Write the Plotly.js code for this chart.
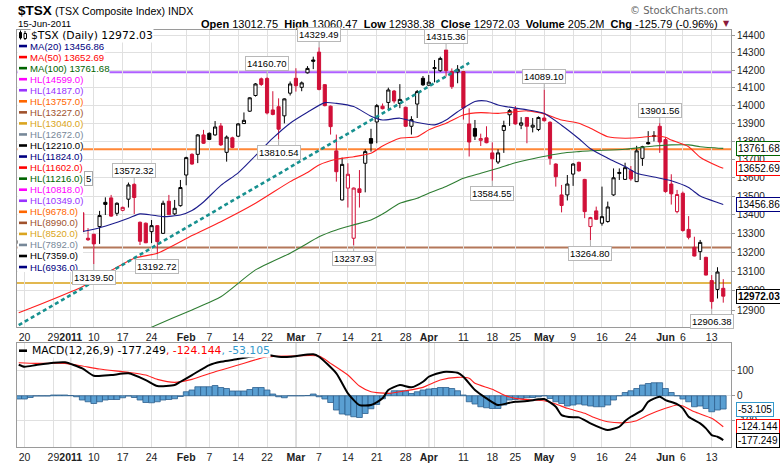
<!DOCTYPE html>
<html>
<head>
<meta charset="utf-8">
<script src="https://cdn.plot.ly/plotly-3.0.1.min.js"></script>
<style>
  html, body { margin: 0; padding: 0; background: #fff; }
  #tsx__chart { width: 780px; height: 465px; }
</style>
</head>
<body>
<div id="tsx__chart"></div>
<script>
// **********************************************************************************************
// DATA  ($TSX daily, 17-Dec-2010 .. 15-Jun-2011)

const dates = [
    '2010-12-17','2010-12-20','2010-12-21','2010-12-22','2010-12-23','2010-12-24','2010-12-29','2010-12-30','2010-12-31',
    '2011-01-04','2011-01-05','2011-01-06','2011-01-07','2011-01-10','2011-01-11','2011-01-12','2011-01-13','2011-01-14',
    '2011-01-17','2011-01-18','2011-01-19','2011-01-20','2011-01-21','2011-01-24','2011-01-25','2011-01-26','2011-01-27',
    '2011-01-28','2011-01-31','2011-02-01','2011-02-02','2011-02-03','2011-02-04','2011-02-07','2011-02-08','2011-02-09',
    '2011-02-10','2011-02-11','2011-02-14','2011-02-15','2011-02-16','2011-02-17','2011-02-18','2011-02-22','2011-02-23',
    '2011-02-24','2011-02-25','2011-02-28','2011-03-01','2011-03-02','2011-03-03','2011-03-04','2011-03-07','2011-03-08',
    '2011-03-09','2011-03-10','2011-03-11','2011-03-14','2011-03-15','2011-03-16','2011-03-17','2011-03-18','2011-03-21',
    '2011-03-22','2011-03-23','2011-03-24','2011-03-25','2011-03-28','2011-03-29','2011-03-30','2011-03-31','2011-04-01',
    '2011-04-04','2011-04-05','2011-04-06','2011-04-07','2011-04-08','2011-04-11','2011-04-12','2011-04-13','2011-04-14',
    '2011-04-15','2011-04-18','2011-04-19','2011-04-20','2011-04-21','2011-04-25','2011-04-26','2011-04-27','2011-04-28',
    '2011-04-29','2011-05-02','2011-05-03','2011-05-04','2011-05-05','2011-05-06','2011-05-09','2011-05-10','2011-05-11',
    '2011-05-12','2011-05-13','2011-05-16','2011-05-17','2011-05-18','2011-05-19','2011-05-20','2011-05-24','2011-05-25',
    '2011-05-26','2011-05-27','2011-05-30','2011-05-31','2011-06-01','2011-06-02','2011-06-03','2011-06-06','2011-06-07',
    '2011-06-08','2011-06-09','2011-06-10','2011-06-13','2011-06-14','2011-06-15'
];

const open = [
    13250, 13262, 13285, 13330, 13350, 13344, 13360, 13392, 13400,
    13452, 13395, 13412, 13276, 13297, 13338, 13468, 13492, 13409,
    13425, 13485, 13565, 13361, 13356, 13311, 13343, 13302, 13474,
    13406, 13450, 13616, 13729, 13729, 13836, 13845, 13836, 13886,
    13740, 13820, 13829, 13899, 13968, 14056, 14150, 14152, 13975,
    13993, 13942, 14069, 14153, 14102, 14184, 14257, 14302, 14117,
    13996, 13748, 13481, 13545, 13276, 13541, 13680, 13816, 13908,
    13996, 14017, 14081, 14011, 13990, 13884, 14008, 14153, 14114,
    14208, 14196, 14314, 14191, 14189, 14191, 13897, 13872, 13806,
    13820, 13737, 13687, 13861, 13948, 13980, 13890, 13933, 13879,
    13866, 13930, 13906, 13676, 13508, 13508, 13621, 13685, 13592,
    13338, 13422, 13356, 13365, 13508, 13624, 13592, 13640, 13580,
    13707, 13794, 13828, 13884, 13810, 13567, 13418, 13517, 13323,
    13228, 13205, 13175, 13053, 13007, 13012.75
];
const high = [
    13275, 13290, 13330, 13362, 13372, 13362, 13400, 13420, 13450,
    13470, 13432, 13415, 13330, 13300, 13422, 13495, 13508, 13468,
    13445, 13575, 13572.32, 13365, 13360, 13373, 13345, 13477, 13508,
    13481, 13589, 13716, 13735, 13841, 13864, 13850, 13913, 13902,
    13833, 13826, 13902, 13961, 14046, 14126, 14157, 14160.70, 14080,
    14040, 14040, 14135, 14210, 14135, 14222, 14276, 14329.49, 14120,
    14000, 13838, 13711, 13680, 13548, 13643, 13757, 13870, 14008,
    14011, 14100, 14087, 14120, 13993, 13940, 14087, 14166, 14172,
    14257, 14276, 14315.36, 14209, 14228, 14195, 13984, 13919, 13843,
    13884, 13795, 13757, 13915, 13980, 13997, 13935, 13935, 13930,
    13939, 14089.10, 13912, 13680, 13562, 13616, 13680, 13689, 13595,
    13390, 13445, 13553, 13472, 13652, 13652, 13683, 13665, 13776,
    13776, 13857, 13857, 13901.56, 13823, 13620, 13535, 13526, 13394,
    13284, 13267, 13178, 13082, 13123, 13060.47
];
const low = [
    13225, 13230, 13280, 13318, 13330, 13330, 13348, 13370, 13395,
    13380, 13362, 13300, 13262, 13139.50, 13246, 13400, 13390, 13395,
    13420, 13440, 13405, 13240, 13250, 13250, 13192.72, 13300, 13400,
    13400, 13445, 13560, 13672, 13681, 13786, 13808, 13832, 13775,
    13689, 13763, 13824, 13897, 13964, 14050, 14110, 13950, 13945,
    13810.54, 13900, 14056, 14078, 14080, 14180, 14205, 14085, 13995,
    13838, 13580, 13478, 13440, 13237.93, 13440, 13522, 13744, 13790,
    13978, 13979, 14012, 13985, 13880, 13838, 13930, 14110, 14110,
    14130, 14190, 14163, 14093, 14125, 13921, 13717, 13808, 13775,
    13790, 13584.55, 13676, 13737, 13886, 13893, 13868, 13790, 13850,
    13857, 13910, 13672, 13553, 13414, 13478, 13557, 13634, 13383,
    13264.80, 13373, 13343, 13359, 13503, 13589, 13589, 13585, 13578,
    13666, 13783, 13800, 13737, 13520, 13456, 13409, 13311, 13270,
    13180, 13161, 13080, 12906.38, 12960, 12938.38
];
const close = [
    13262, 13280, 13325, 13350, 13344, 13352, 13390, 13402, 13443,
    13400, 13420, 13311, 13268, 13246, 13397, 13457, 13394, 13463,
    13441, 13562, 13494, 13260, 13252, 13343, 13258, 13463, 13402,
    13436, 13548, 13711, 13676, 13836, 13790, 13811, 13880, 13781,
    13824, 13767, 13897, 13917, 14043, 14121, 14118, 13958, 13950,
    13868, 14037, 14121, 14111, 14127, 14209, 14250, 14090, 13999,
    13882, 13634, 13674, 13620, 13545, 13521, 13744, 13790, 13999,
    13982, 14087, 14025, 14034, 13884, 13921, 14078, 14116, 14131,
    14213, 14266, 14196, 14106, 14204, 13986, 13797, 13829, 13816,
    13793, 13705, 13737, 13888, 13971, 13897, 13903, 13884, 13890,
    13933, 13915, 13707, 13607, 13451, 13567, 13676, 13639, 13418,
    13386, 13377, 13391, 13443, 13601, 13630, 13656, 13595, 13748,
    13771, 13787, 13831, 13797, 13526, 13514, 13510, 13317, 13281,
    13182, 13254, 13082, 12944, 13097.82, 12972.03
];

// moving averages, read at sample dates
const ma20Dates = ['2011-01-05','2011-01-10','2011-01-13','2011-01-18','2011-01-20','2011-01-24','2011-01-26','2011-01-31',
    '2011-02-02','2011-02-04','2011-02-09','2011-02-14','2011-02-17','2011-02-23','2011-02-28','2011-03-03','2011-03-08',
    '2011-03-10','2011-03-15','2011-03-18','2011-03-22','2011-03-25','2011-03-30','2011-04-04','2011-04-06','2011-04-08',
    '2011-04-13','2011-04-15','2011-04-19','2011-04-25','2011-04-27','2011-05-02','2011-05-05','2011-05-10','2011-05-12',
    '2011-05-17','2011-05-20','2011-05-25','2011-05-30','2011-06-02','2011-06-07','2011-06-09','2011-06-14','2011-06-15'];
const ma20Vals = [13306, 13324, 13351, 13383, 13406, 13400, 13391, 13400,
    13424, 13470, 13560, 13628, 13722, 13818, 13901, 13962, 14016,
    14012, 13994, 13940, 13919, 13929, 13905, 13892, 13919, 13965,
    14022, 14025, 14003, 13985, 13976, 13955, 13890, 13815, 13760,
    13708, 13662, 13626, 13605, 13585, 13548, 13502, 13467, 13456.86];

const ma50Dates = ['2010-12-17','2010-12-21','2011-01-06','2011-01-19','2011-01-25','2011-02-02','2011-02-09','2011-02-17',
    '2011-02-28','2011-03-03','2011-03-07','2011-03-10','2011-03-15','2011-03-18','2011-03-22','2011-03-25','2011-03-30',
    '2011-04-01','2011-04-06','2011-04-11','2011-04-14','2011-04-19','2011-04-25','2011-04-27','2011-05-02','2011-05-05',
    '2011-05-10','2011-05-12','2011-05-17','2011-05-20','2011-05-26','2011-05-30','2011-06-01','2011-06-02','2011-06-07',
    '2011-06-09','2011-06-14','2011-06-15'];
const ma50Vals = [12886, 12909, 13021, 13170, 13196, 13290, 13364, 13463,
    13580, 13630, 13671, 13702, 13716, 13735, 13775, 13818, 13826,
    13864, 13901, 13947, 13960, 13956, 13965, 13970, 13953, 13919,
    13901, 13873, 13826, 13818, 13823, 13830, 13823, 13808, 13771,
    13713, 13665, 13652.69];

const ma100Dates = ['2011-01-20','2011-01-24','2011-02-02','2011-02-09','2011-02-17','2011-02-28','2011-03-02','2011-03-07',
    '2011-03-10','2011-03-15','2011-03-18','2011-03-22','2011-03-25','2011-03-30','2011-04-01','2011-04-06','2011-04-11',
    '2011-04-14','2011-04-19','2011-04-25','2011-04-27','2011-05-05','2011-05-10','2011-05-12','2011-05-20','2011-05-30',
    '2011-06-02','2011-06-07','2011-06-09','2011-06-15'];
const ma100Vals = [12784, 12812, 12901, 12969, 13109, 13197, 13231, 13284,
    13320, 13347, 13373, 13405, 13463, 13490, 13517, 13553, 13598,
    13626, 13653, 13683, 13698, 13735, 13744, 13749, 13757, 13775,
    13781, 13781, 13771, 13761.68];

// horizontal levels
const hlLevels = [14599, 14187, 13757, 13227, 13040, 12672, 12210, 11824, 11602, 11216,
    10818, 10349, 9678, 8990, 8520, 7892, 7359, 6936];
const hlColors = ['#ff00ff', '#9933ff', '#ff6600', '#a0522d', '#daa520', '#778899', '#000000', '#000080', '#ff0000', '#006400'];

// MACD(12,26,9)
const macdDates = ['2010-12-17','2010-12-20','2010-12-22','2010-12-29','2010-12-31','2011-01-06','2011-01-10','2011-01-13',
    '2011-01-18','2011-01-21','2011-01-25','2011-01-28','2011-01-31','2011-02-02','2011-02-07','2011-02-09','2011-02-11',
    '2011-02-16','2011-02-22','2011-02-24','2011-02-28','2011-03-04','2011-03-07','2011-03-10','2011-03-14','2011-03-16',
    '2011-03-18','2011-03-22','2011-03-23','2011-03-25','2011-03-29','2011-03-31','2011-04-01','2011-04-05','2011-04-06',
    '2011-04-08','2011-04-11','2011-04-13','2011-04-15','2011-04-19','2011-04-21','2011-04-25','2011-04-27','2011-04-29',
    '2011-05-02','2011-05-04','2011-05-05','2011-05-09','2011-05-10','2011-05-12','2011-05-16','2011-05-17','2011-05-19',
    '2011-05-20','2011-05-24','2011-05-26','2011-05-27','2011-05-31','2011-06-01','2011-06-03','2011-06-06','2011-06-07',
    '2011-06-09','2011-06-10','2011-06-13','2011-06-14','2011-06-15'];
const macdVals = [124, 116, 122.8, 132, 133.6, 109.6, 80, 82.8,
    89.6, 62.8, 38.8, 42.8, 56, 82.8, 122.8, 136, 142.8,
    156, 162.8, 156, 156, 165.6, 156, 89.6, 9.6, -37.2,
    -37.2, -10.4, 22.8, 42.8, 33.6, 56, 76, 92, 96,
    92, 76, 22.8, -10.4, -37.2, -28, -24, -21.2, -14.4,
    -13.2, -44, -77.2, -86.4, -86.4, -110.4, -130.4, -137.2, -124,
    -101.2, -84, -57.2, -24, -4, -17.2, -33.2, -50.4, -84,
    -110.4, -130.4, -157.2, -164, -177.249];

const signalDates = ['2010-12-17','2010-12-22','2010-12-31','2011-01-06','2011-01-11','2011-01-18','2011-01-21','2011-01-25',
    '2011-01-28','2011-02-02','2011-02-08','2011-02-14','2011-02-22','2011-02-28','2011-03-07','2011-03-09','2011-03-14',
    '2011-03-16','2011-03-18','2011-03-23','2011-03-28','2011-03-31','2011-04-05','2011-04-08','2011-04-12','2011-04-13',
    '2011-04-18','2011-04-20','2011-04-25','2011-04-28','2011-05-02','2011-05-04','2011-05-06','2011-05-11','2011-05-13',
    '2011-05-17','2011-05-20','2011-05-25','2011-05-27','2011-06-01','2011-06-03','2011-06-06','2011-06-08','2011-06-13',
    '2011-06-15'];
const signalVals = [132, 129.6, 129.6, 118.8, 106.8, 93.6, 82.8, 65.6,
    53.6, 65.6, 96, 122.8, 156, 158.8, 158.8, 129.6, 82.8,
    38.8, 16, 9.6, 20, 33.6, 62.8, 73.6, 69.6, 49.6,
    25.6, 2.8, -10.4, -17.2, -20, -33.2, -50.4, -70.4, -90.4,
    -104, -108, -100, -77.2, -50.4, -37.2, -41.2, -64, -90.4,
    -124.144];

// histogram, one bar per day (same order as dates)
const hist = [
    -13, -13, -7, -1, -1, -1, 3, 3, 3,
    1, -4, -17, -24, -31, -24, -17, -15, -15,
    -8, -1, -7, -17, -27, -28, -24, -17, -15,
    -12, -3, 16, 23, 36, 36, 36, 41, 33,
    29, 19, 19, 19, 25, 33, 33, 23, 7,
    -4, -8, 0, 0, 0, 1, 7, -4, -13,
    -27, -57, -73, -77, -84, -87, -71, -52, -35,
    -12, 10, 20, 20, 20, 9, 16, 23, 27,
    29, 33, 33, 29, 20, 3, -24, -33, -44,
    -48, -51, -51, -37, -17, -15, -11, -8, -7,
    -4, 0, -11, -24, -31, -41, -37, -33, -37,
    -41, -44, -44, -37, -17, 0, 13, 20, 29,
    43, 49, 52, 52, 29, 13, 0, -13, -24,
    -44, -41, -51, -64, -57, -53.105
];

// axis ticks
const tickDates = ['2010-12-20','2010-12-29','2011-01-04','2011-01-10','2011-01-17','2011-01-24','2011-02-01','2011-02-07',
    '2011-02-14','2011-02-22','2011-03-01','2011-03-07','2011-03-14','2011-03-21','2011-03-28','2011-04-01','2011-04-11',
    '2011-04-18','2011-04-25','2011-05-02','2011-05-09','2011-05-16','2011-05-24','2011-06-01','2011-06-06','2011-06-13'];
const tickText = ['20','29','<b>2011</b>','10','17','24','<b>Feb</b>','7',
    '14','22','<b>Mar</b>','7','14','21','28','<b>Apr</b>','11',
    '18','25','<b>May</b>','9','16','24','<b>Jun</b>','6','13'];
const monthDates = ['2011-01-04','2011-02-01','2011-03-01','2011-04-01','2011-05-02','2011-06-01'];
const extraGridDates = ['2011-04-04'];
const priceTicks = [12900, 13000, 13100, 13200, 13300, 13400, 13500, 13600, 13700, 13800, 13900, 14000, 14100, 14200, 14300, 14400];
const macdTicks = [-100, 0, 100];

// labelled highs / lows
const peakDates = ['2011-01-19','2011-02-22','2011-03-07','2011-04-06','2011-05-02','2011-05-31'];
const troughDates = ['2011-01-10','2011-01-25','2011-02-24','2011-03-15','2011-04-18','2011-05-12','2011-06-13'];

// trend line anchors
const trendStart = ['2010-12-17', 12822];
const trendEnd = ['2011-04-12', 14240];

// **********************************************************************************************
// HELPERS  (pixel -> paper, plot area is x 17..731, y 30..447)

const PX = x => (x - 17) / 714;
const PY = y => (447 - y) / 417;
const last = a => a[a.length - 1];

const RED = '#d01038';

// **********************************************************************************************
// TRACES

const upIdx = [], dnIdx = [];
close.forEach((c, i) => {
    const prev = i === 0 ? open[0] : close[i - 1];
    (c >= prev ? upIdx : dnIdx).push(i);
});
const pick = (arr, idx) => idx.map(i => arr[i]);

const candle = (idx, color) => ({
    type: 'candlestick',
    x: pick(dates, idx), open: pick(open, idx), high: pick(high, idx), low: pick(low, idx), close: pick(close, idx),
    increasing: { line: { color: color, width: 1 }, fillcolor: '#ffffff' },
    decreasing: { line: { color: color, width: 1 }, fillcolor: color },
    whiskerwidth: 0,
    hoverinfo: 'none',
    xaxis: 'x', yaxis: 'y'
});

const line = (x, y, color, width, xa, ya) => ({
    type: 'scatter', mode: 'lines', x: x, y: y,
    line: { color: color, width: width, shape: 'spline', smoothing: 0.6 },
    hoverinfo: 'none', xaxis: xa, yaxis: ya
});

const data = [
    candle(upIdx, '#000000'),
    candle(dnIdx, RED),
    line(ma100Dates, ma100Vals, '#2e7d32', 1.1, 'x', 'y'),
    line(ma50Dates, ma50Vals, '#ff2020', 1.1, 'x', 'y'),
    line(ma20Dates, ma20Vals, '#1c1c8c', 1.1, 'x', 'y'),
    {
        type: 'bar', x: dates, y: hist, width: 1,
        marker: { color: '#5a9fd2', line: { color: '#2d5f8e', width: 0.8 } },
        hoverinfo: 'none', xaxis: 'x2', yaxis: 'y2'
    },
    line(signalDates, signalVals, '#ff2020', 1.1, 'x2', 'y2'),
    line(macdDates, macdVals, '#000000', 2, 'x2', 'y2')
];

// **********************************************************************************************
// SHAPES

const shapes = [];

const vline = (d, color, xa, ya) => shapes.push({
    type: 'line', xref: xa, yref: ya, x0: d, x1: d, y0: -1e6, y1: 1e6,
    line: { color: color, width: 1 }, layer: 'below'
});
monthDates.forEach(d => { vline(d, '#ababab', 'x', 'y2'); });
extraGridDates.forEach(d => { vline(d, '#e0e0e0', 'x', 'y2'); });

hlLevels.forEach((v, i) => {
    shapes.push({ type: 'line', xref: 'x', yref: 'y', x0: -3, x1: dates.length + 3, y0: v, y1: v,
        line: { color: hlColors[i % hlColors.length], width: 2 }, opacity: 0.78, layer: 'below' });
});

shapes.push({ type: 'line', xref: 'x', yref: 'y',
    x0: trendStart[0], y0: trendStart[1], x1: trendEnd[0], y1: trendEnd[1],
    line: { color: '#17908f', width: 2.6, dash: '4px,3px' }, layer: 'above' });

// legend backdrop + markers
const rowY = k => 35 + 11.05 * k;
shapes.push({ type: 'rect', xref: 'paper', yref: 'paper', x0: PX(17.5), x1: PX(83), y0: PY(272), y1: PY(30.5),
    fillcolor: '#ffffff', line: { width: 0 }, layer: 'above' });

const legendRows = [
    { text: 'MA(20) ' + last(ma20Vals).toFixed(2), color: '#000080' },
    { text: 'MA(50) ' + last(ma50Vals).toFixed(2), color: '#ff0000' },
    { text: 'MA(100) ' + last(ma100Vals).toFixed(2), color: '#006400' }
].concat(hlLevels.map((v, i) => ({ text: 'HL(' + v.toFixed(1) + ')', color: hlColors[i % hlColors.length] })));

legendRows.forEach((r, i) => {
    const y = rowY(i + 1);
    shapes.push({ type: 'line', xref: 'paper', yref: 'paper', x0: PX(19), x1: PX(27), y0: PY(y), y1: PY(y),
        line: { color: r.color, width: 2.6 }, layer: 'above' });
});

// tiny candle icon for the price row
shapes.push({ type: 'line', xref: 'paper', yref: 'paper', x0: PX(20.5), x1: PX(20.5), y0: PY(39.5), y1: PY(30.5),
    line: { color: '#000', width: 1 }, layer: 'above' });
shapes.push({ type: 'rect', xref: 'paper', yref: 'paper', x0: PX(19.5), x1: PX(21.5), y0: PY(38), y1: PY(32.5),
    fillcolor: '#000', line: { color: '#000', width: 1 }, layer: 'above' });
shapes.push({ type: 'line', xref: 'paper', yref: 'paper', x0: PX(25), x1: PX(25), y0: PY(40), y1: PY(31),
    line: { color: '#000', width: 1 }, layer: 'above' });
shapes.push({ type: 'rect', xref: 'paper', yref: 'paper', x0: PX(24), x1: PX(26.5), y0: PY(38.5), y1: PY(33.5),
    fillcolor: '#fff', line: { color: '#000', width: 1 }, layer: 'above' });

// MACD legend marker
shapes.push({ type: 'line', xref: 'paper', yref: 'paper', x0: PX(19), x1: PX(27), y0: PY(350.7), y1: PY(350.7),
    line: { color: '#000', width: 2.6 }, layer: 'above' });

// **********************************************************************************************
// ANNOTATIONS

const annotations = [];
const note = (o) => annotations.push(Object.assign({ showarrow: false, xref: 'paper', yref: 'paper' }, o));

// header
note({ x: PX(15.5), y: PY(10.5), xanchor: 'left', yanchor: 'middle', text: '<b>$TSX</b>',
    font: { family: 'Liberation Sans, Arial', size: 13.5, color: '#000' } });
note({ x: PX(53), y: PY(11), xanchor: 'left', yanchor: 'middle', text: '(TSX Composite Index)',
    font: { family: 'Liberation Sans, Arial', size: 10.6, color: '#000' } });
note({ x: PX(166), y: PY(11), xanchor: 'left', yanchor: 'middle', text: 'INDX',
    font: { family: 'Liberation Sans, Arial', size: 10.6, color: '#000' } });
note({ x: PX(15.5), y: PY(23.5), xanchor: 'left', yanchor: 'middle', text: '15-Jun-2011',
    font: { family: 'Liberation Sans, Arial', size: 9.6, color: '#000' } });
note({ x: PX(730), y: PY(10), xanchor: 'right', yanchor: 'middle', text: '\u00a9 StockCharts.com',
    font: { family: 'DejaVu Sans', size: 10, color: '#666' } });

const lastO = last(open), lastH = last(high), lastL = last(low), lastC = last(close);
const chg = lastC - close[close.length - 2];
note({ x: PX(720), y: PY(23.5), xanchor: 'right', yanchor: 'middle',
    text: '<b>Open</b> ' + lastO.toFixed(2) + '  <b>High</b> ' + lastH.toFixed(2) + '  <b>Low</b> ' + lastL.toFixed(2) +
          '  <b>Close</b> ' + lastC.toFixed(2) + '  <b>Volume</b> 205.2M  <b>Chg</b> ' + chg.toFixed(2) +
          ' (' + (chg / close[close.length - 2] * 100).toFixed(2) + '%)',
    font: { family: 'Liberation Sans, Arial', size: 11, color: '#000' } });
note({ x: PX(726), y: PY(23.5), xanchor: 'center', yanchor: 'middle', text: '\u25bc',
    font: { family: 'DejaVu Sans', size: 8, color: '#8b1a3a' } });

// legend rows
note({ x: PX(29.5), y: PY(rowY(0)), xanchor: 'left', yanchor: 'middle', bgcolor: '#fff', borderpad: 0,
    text: '$TSX (Daily) ' + lastC.toFixed(2), font: { family: 'DejaVu Sans', size: 10.8, color: '#000' } });
legendRows.forEach((r, i) => {
    note({ x: PX(29), y: PY(rowY(i + 1)), xanchor: 'left', yanchor: 'middle', borderpad: 0,
        bgcolor: i < 3 ? '#fff' : 'rgba(0,0,0,0)',
        text: r.text, font: { family: 'Liberation Sans, Arial', size: 9.6, color: r.color } });
});
note({ x: PX(84), y: PY(rowY(13)), xanchor: 'left', yanchor: 'middle', text: '5', bgcolor: '#fff',
    bordercolor: '#aaa', borderwidth: 1, borderpad: 1, font: { family: 'Liberation Sans, Arial', size: 9.5, color: '#000' } });

// MACD legend
note({ x: PX(30.5), y: PY(350.7), xanchor: 'left', yanchor: 'middle', bgcolor: '#fff', borderpad: 0,
    text: 'MACD(12,26,9) ' + last(macdVals).toFixed(3) +
          '<span style="color:#ff0000">, ' + last(signalVals).toFixed(3) + '</span>' +
          '<span style="color:#3399cc">, ' + last(hist).toFixed(3) + '</span>',
    font: { family: 'DejaVu Sans', size: 10.8, color: '#000' } });

// high / low call-outs
const callout = (d, v, dir) => annotations.push({
    xref: 'x', yref: 'y', x: d, y: Math.log10(v), text: v.toFixed(2),
    showarrow: true, arrowhead: 0, arrowwidth: 1, arrowcolor: '#b0b0b0', ax: 0, ay: dir * 13, standoff: 0,
    bgcolor: '#fff', bordercolor: '#b8b8b8', borderwidth: 1, borderpad: 1,
    font: { family: 'Liberation Sans, Arial', size: 9.5, color: '#000' }
});
peakDates.forEach(d => callout(d, high[dates.indexOf(d)], -1));
troughDates.forEach(d => callout(d, low[dates.indexOf(d)], 1));

// right-side value tags
const tag = (ya, v, digits, color, bold) => annotations.push({
    xref: 'paper', yref: ya, x: PX(736), y: ya === 'y' ? Math.log10(v) : v, xanchor: 'left', yanchor: 'middle',
    text: bold ? '<b>' + v.toFixed(digits) + '</b>' : v.toFixed(digits), showarrow: false,
    bgcolor: '#fff', bordercolor: color, borderwidth: 1, borderpad: 1,
    font: { family: 'Liberation Sans, Arial', size: 10, color: '#000' }
});
tag('y', last(ma100Vals), 2, '#006400');
tag('y', last(ma50Vals), 2, '#ff0000');
tag('y', last(ma20Vals), 2, '#000080');
tag('y', lastC, 2, '#000000', true);
tag('y2', last(hist), 3, '#3399cc');
tag('y2', last(signalVals), 3, '#ff0000');
tag('y2', last(macdVals), 3, '#000000');

// **********************************************************************************************
// LAYOUT

const axisX = {
    type: 'category', categoryorder: 'array', categoryarray: dates,
    range: [-0.3, 123.34],
    tickmode: 'array', tickvals: tickDates, ticktext: tickText, tickangle: 0,
    tickfont: { family: 'Liberation Sans, Arial', size: 10.5, color: '#222' },
    showgrid: true, gridcolor: '#e0e0e0', gridwidth: 1,
    showline: true, linecolor: '#9a9a9a', linewidth: 1, mirror: true,
    ticks: '', zeroline: false, fixedrange: true,
    rangeslider: { visible: false }
};

const layout = {
    width: 780, height: 465,
    margin: { t: 30, r: 49, b: 18, l: 17, pad: 0 },
    paper_bgcolor: '#ffffff', plot_bgcolor: '#ffffff',
    showlegend: false, hovermode: false, dragmode: false,
    boxgap: 0.22,
    font: { family: 'Liberation Sans, Arial, sans-serif', size: 10.5, color: '#222' },
    xaxis: Object.assign({}, axisX, { anchor: 'y' }),
    xaxis2: Object.assign({}, axisX, { anchor: 'y2', matches: 'x' }),
    yaxis: {
        type: 'log', domain: [120 / 417, 1], side: 'right', anchor: 'x',
        range: [Math.log10(12813), Math.log10(14429)],
        tickmode: 'array', tickvals: priceTicks, ticktext: priceTicks.map(String),
        tickfont: { family: 'Liberation Sans, Arial', size: 10, color: '#222' },
        showgrid: true, gridcolor: '#e0e0e0',
        showline: true, linecolor: '#9a9a9a', mirror: true,
        ticks: 'outside', ticklen: 3, tickcolor: '#9a9a9a',
        zeroline: false, fixedrange: true
    },
    yaxis2: {
        domain: [0, 104 / 417], side: 'right', anchor: 'x2',
        range: [-205, 211],
        tickmode: 'array', tickvals: macdTicks, ticktext: macdTicks.map(String),
        tickfont: { family: 'Liberation Sans, Arial', size: 10, color: '#222' },
        showgrid: true, gridcolor: '#e0e0e0',
        showline: true, linecolor: '#9a9a9a', mirror: true,
        ticks: 'outside', ticklen: 3, tickcolor: '#9a9a9a',
        zeroline: false, fixedrange: true
    },
    shapes: shapes,
    annotations: annotations
};

// **********************************************************************************************
// CONFIG

const config = {
    responsive: false,
    displaylogo: false,
    displayModeBar: false,
    staticPlot: true
};

// **********************************************************************************************
// CREATE AND APPEND

Plotly.newPlot(document.getElementById('tsx__chart'), data, layout, config);
</script>
</body>
</html>
